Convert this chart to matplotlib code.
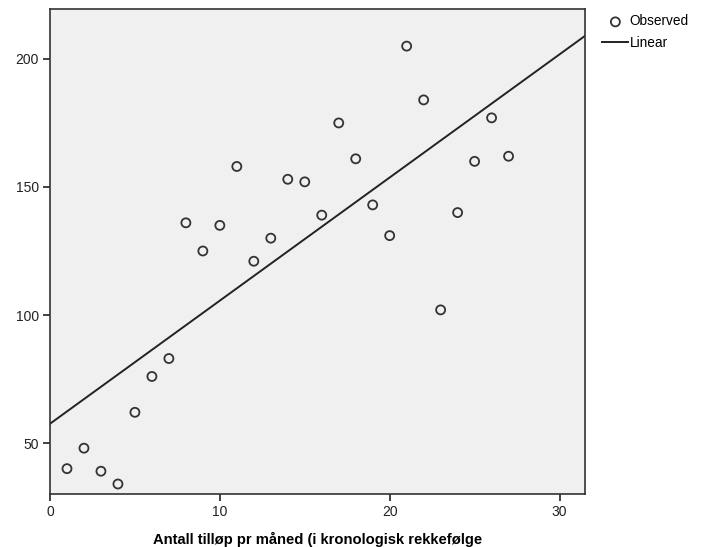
import matplotlib.pyplot as plt
import numpy as np

# monthly counts in chronological order
months = list(range(1, 28))
counts = [40, 48, 39, 34, 62, 76, 83, 136, 125, 135, 158, 121, 130, 153,
          152, 139, 175, 161, 143, 131, 205, 184, 102, 140, 160, 177, 162]
x_ticks = [0, 10, 20, 30]
y_ticks = [50, 100, 150, 200]
x_label = "Antall tilløp pr måned (i kronologisk rekkefølge"

plt.rcParams['font.family'] = ['Liberation Sans', 'DejaVu Sans']

fig = plt.figure(figsize=(7.01, 5.47), dpi=100)
ax = fig.add_axes([50 / 701, 53 / 547, 535 / 701, 485 / 547])
ax.set_facecolor('#f0f0f0')

xlim = (0, 31.5)
ylim = (30.1, 219.5)

# least squares line, drawn over the full x range
slope, intercept = np.polyfit(months, counts, 1)
xs = np.array(xlim)
ax.plot(xs, intercept + slope * xs, color='#222222', lw=1.4, label='Linear', zorder=2)
ax.scatter(months, counts, s=42, facecolors='none', edgecolors='#333333',
           linewidths=1.3, label='Observed', zorder=3)

ax.set_xlim(*xlim)
ax.set_ylim(*ylim)
ax.set_xticks(x_ticks)
ax.set_yticks(y_ticks)
ax.tick_params(direction='out', length=5, width=1.2, color='#222222',
               labelsize=10, labelcolor='#222222', pad=3)
for s in ax.spines.values():
    s.set_color('#333333')
    s.set_linewidth(1.2)

ax.set_xlabel(x_label, fontsize=10.6, fontweight='bold', labelpad=9)

handles, labels = ax.get_legend_handles_labels()
order = [labels.index('Observed'), labels.index('Linear')]
fig.legend([handles[i] for i in order], [labels[i] for i in order],
           loc='upper left', bbox_to_anchor=(597 / 701, 1 - 9 / 547),
           frameon=False, fontsize=9.8, handlelength=1.9, handletextpad=0.1,
           labelspacing=0.55, borderaxespad=0)

fig.savefig('out.png', dpi=100, facecolor='white')
